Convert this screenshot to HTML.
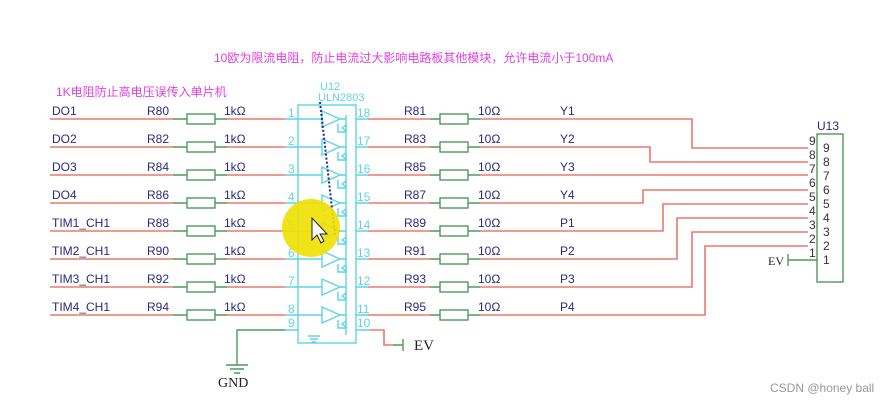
<!DOCTYPE html>
<html><head><meta charset="utf-8"><style>
body{margin:0;background:#fff}
svg{display:block}
text{font-family:"Liberation Sans","Noto Sans CJK SC",sans-serif;font-size:12px}
.lb{fill:#2a2a7a}
.r{stroke:#e87a6e;stroke-width:1.6;fill:none}
.g{stroke:#4f9a5a;stroke-width:1.4;fill:none}
.c{stroke:#5fd4e6;stroke-width:1.4;fill:none}
.cn{fill:#5fd4e6;font-size:11px}
</style></head><body>
<svg width="883" height="405" viewBox="0 0 883 405" xmlns="http://www.w3.org/2000/svg">
<rect width="883" height="405" fill="#fff"/>
<text x="214" y="62" fill="#e040e0" font-size="11">10欧为限流电阻，防止电流过大影响电路板其他模块，允许电流小于100mA</text>
<text x="56" y="96" fill="#e040e0" font-size="11">1K电阻防止高电压误传入单片机</text>
<text x="320" y="90" class="cn" font-size="12">U12</text>
<text x="318" y="101" class="cn" font-size="12">ULN2803</text>
<rect x="298" y="105" width="58" height="238" class="c"/>
<line x1="346" y1="115" x2="346" y2="335" class="c"/>
<defs>
<g id="row">
<path d="M50 0H173" class="r"/><path d="M173 0H187M215 0H227" class="g"/>
<rect x="187" y="-5" width="28" height="10" class="g" fill="#fff"/>
<path d="M227 0H285" class="r"/><path d="M285 0H322" class="c"/>
<path d="M322 -8L340 0L322 8Z" class="c"/><path d="M340 0H346M356 0H368" class="c"/>
<path d="M338 5v8h8M342 9l4 -3v6z" class="c"/>
<path d="M368 0H430" class="r"/><path d="M430 0H440M468 0H480" class="g"/>
<rect x="440" y="-5" width="28" height="10" class="g" fill="#fff"/>
<text x="148" y="-4" class="lb">R</text>
<text x="224" y="-4" class="lb">1kΩ</text>
<text x="478" y="-4" class="lb">10Ω</text>
</g>
</defs>
<g class="rows">
<use href="#row" y="119"/><use href="#row" y="147"/><use href="#row" y="175"/><use href="#row" y="203"/>
<use href="#row" y="231"/><use href="#row" y="259"/><use href="#row" y="287"/><use href="#row" y="315"/>
</g>
<g class="lb">
<text x="52" y="115">DO1</text><text x="52" y="143">DO2</text><text x="52" y="171">DO3</text><text x="52" y="199">DO4</text>
<text x="52" y="227">TIM1_CH1</text><text x="52" y="255">TIM2_CH1</text><text x="52" y="283">TIM3_CH1</text><text x="52" y="311">TIM4_CH1</text>
<rect x="146" y="104" width="26" height="14" fill="#fff"/><text x="147" y="115">R80</text>
<rect x="146" y="132" width="26" height="14" fill="#fff"/><text x="147" y="143">R82</text>
<rect x="146" y="160" width="26" height="14" fill="#fff"/><text x="147" y="171">R84</text>
<rect x="146" y="188" width="26" height="14" fill="#fff"/><text x="147" y="199">R86</text>
<rect x="146" y="216" width="26" height="14" fill="#fff"/><text x="147" y="227">R88</text>
<rect x="146" y="244" width="26" height="14" fill="#fff"/><text x="147" y="255">R90</text>
<rect x="146" y="272" width="26" height="14" fill="#fff"/><text x="147" y="283">R92</text>
<rect x="146" y="300" width="26" height="14" fill="#fff"/><text x="147" y="311">R94</text>
<text x="404" y="115">R81</text><text x="404" y="143">R83</text><text x="404" y="171">R85</text><text x="404" y="199">R87</text>
<text x="404" y="227">R89</text><text x="404" y="255">R91</text><text x="404" y="283">R93</text><text x="404" y="311">R95</text>
<text x="560" y="115">Y1</text><text x="560" y="143">Y2</text><text x="560" y="171">Y3</text><text x="560" y="199">Y4</text>
<text x="560" y="227">P1</text><text x="560" y="255">P2</text><text x="560" y="283">P3</text><text x="560" y="311">P4</text>
</g>
<g class="cn">
<text x="288" y="117">1</text><text x="288" y="145">2</text><text x="288" y="173">3</text><text x="288" y="201">4</text>
<text x="288" y="229">5</text><text x="288" y="257">6</text><text x="288" y="285">7</text><text x="288" y="313">8</text><text x="288" y="327">9</text>
<text x="357" y="117">18</text><text x="357" y="145">17</text><text x="357" y="173">16</text><text x="357" y="201">15</text>
<text x="357" y="229">14</text><text x="357" y="257">13</text><text x="357" y="285">12</text><text x="357" y="313">11</text><text x="357" y="327">10</text>
</g>
<!-- right routes -->
<path class="r" d="M480 119H692V148H808M480 147H650V162H808M480 175H808M480 203H643V190H808M480 231H663V204H808M480 259H677V218H808M480 287H692V232H808M480 315H705V246H808"/>
<!-- connector -->
<text x="817" y="130" fill="#2a2a7a" font-size="12">U13</text>
<rect x="817" y="134" width="26" height="148" stroke="#4f9a5a" stroke-width="1.4" fill="#fff"/>
<g fill="#333" font-size="11">
<text x="809" y="145">9</text><text x="809" y="159">8</text><text x="809" y="173">7</text><text x="809" y="187">6</text><text x="809" y="201">5</text>
<text x="809" y="215">4</text><text x="809" y="229">3</text><text x="809" y="243">2</text><text x="809" y="257">1</text>
<text x="823" y="152">9</text><text x="823" y="166">8</text><text x="823" y="180">7</text><text x="823" y="194">6</text><text x="823" y="208">5</text>
<text x="823" y="222">4</text><text x="823" y="236">3</text><text x="823" y="250">2</text><text x="823" y="264">1</text>
</g>
<path class="g" d="M788 254V266M788 260H817"/>
<text x="768" y="265" fill="#222" font-family="Liberation Serif" font-size="14" style="font-family:'Liberation Serif',serif">EV</text>
<!-- pin 10 / 9 -->
<path class="c" d="M356 330H370M285 330H298"/>
<path class="r" d="M370 330H384V345H393"/><path class="g" d="M393 345H403M403 339V351"/>
<text x="414" y="350" fill="#222" style="font-family:'Liberation Serif',serif;font-size:15px">EV</text>
<path class="g" d="M285 330H237V365M226 365H248M230 369H244M234 373H240"/>
<text x="218" y="387" fill="#222" style="font-family:'Liberation Serif',serif;font-size:14px">GND</text>
<path class="c" d="M308 336H320M310 339H318M312 342H316"/>
<!-- blue dashed line -->
<path d="M320 102L335 235" stroke="#1a2a9a" stroke-width="2" stroke-dasharray="2 2" fill="none"/>
<!-- cursor highlight -->
<circle cx="311" cy="228" r="29" fill="#f0e000" opacity="0.9"/>
<path d="M312 218L312 240L317 235L321 243L324 241L320 234L327 234Z" fill="#fff" stroke="#222" stroke-width="1"/>
<text x="770" y="392" fill="#999" font-size="12">CSDN @honey ball</text>
</svg>
</body></html>
